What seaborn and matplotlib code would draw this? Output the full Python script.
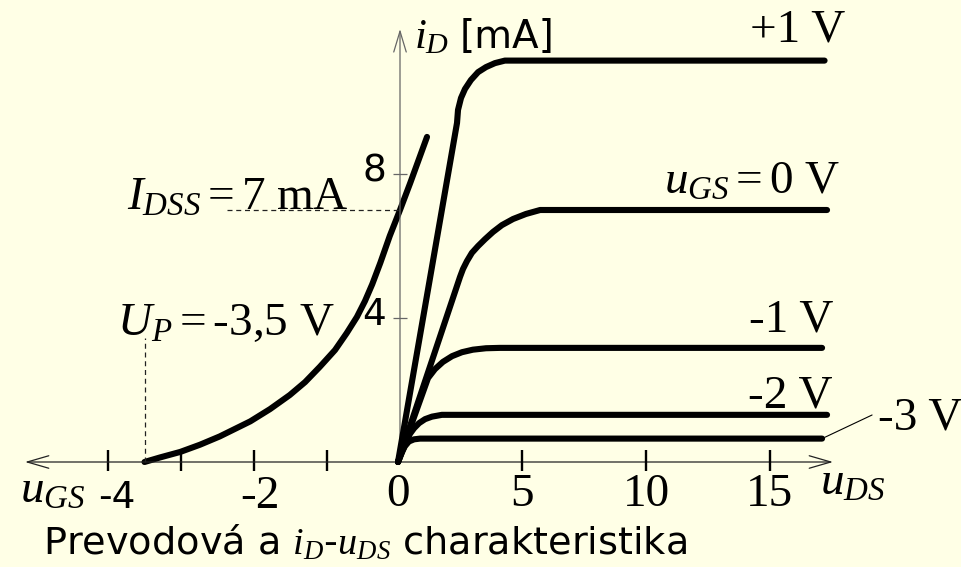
import matplotlib
matplotlib.use("Agg")
import matplotlib.pyplot as plt
import pandas as pd
import seaborn as sns

# Transfer characteristic i_D = f(u_GS) of an N-channel JFET
u_gs = [-3.5, -3.29, -3.01, -2.74, -2.47, -2.05, -1.78, -1.51, -1.30, -1.10,
        -0.89, -0.73, -0.59, -0.48, -0.38, -0.27, -0.14, 0.0, 0.14, 0.37]
i_transfer = [0.0, 0.125, 0.28, 0.48, 0.71, 1.13, 1.47, 1.86, 2.22, 2.64,
              3.11, 3.58, 4.03, 4.47, 4.94, 5.53, 6.28, 7.0, 7.75, 9.03]

# Output characteristics i_D = f(u_DS), one curve per gate voltage
u_ds_p1 = [0, 2.38, 2.42, 2.54, 2.70, 2.94, 3.23, 3.55, 3.91, 4.31, 17.2]
i_p1 = [0, 9.42, 9.78, 10.11, 10.36, 10.61, 10.83, 10.97, 11.08, 11.15, 11.15]
u_ds_0 = [0, 2.50, 2.62, 2.78, 2.98, 3.23, 3.51, 3.83, 4.19, 4.64, 5.16, 5.73, 17.3]
i_0 = [0, 5.14, 5.36, 5.58, 5.81, 6.00, 6.19, 6.39, 6.58, 6.75, 6.89, 7.0, 7.0]
u_ds_m1 = [0, 1.21, 1.49, 1.81, 2.18, 2.58, 3.02, 3.55, 4.11, 17.1]
i_m1 = [0, 2.33, 2.58, 2.78, 2.94, 3.05, 3.12, 3.16, 3.17, 3.17]
u_ds_m2 = [0, 0.28, 0.48, 0.65, 0.85, 1.09, 1.37, 1.77, 17.3]
i_m2 = [0, 0.47, 0.78, 0.94, 1.08, 1.19, 1.26, 1.31, 1.31]
u_ds_m3 = [0, 0.16, 0.28, 0.44, 0.65, 0.89, 17.1]
i_m3 = [0, 0.28, 0.44, 0.57, 0.63, 0.65, 0.65]

gate_voltages = ["+1 V", "0 V", "-1 V", "-2 V", "-3 V"]

# Characteristic points and axis ticks
I_DSS = 7.0
U_P = -3.5
gs_ticks = [-4, -3, -2, -1]
ds_ticks = [5, 10, 15]
ds_ticklabels = ["5", "10", "15"]
id_ticks = [4, 8]
id_ticklabels = ["4", "8"]

BG = "#FFFFE6"
sns.set_theme(style="white")
plt.rcParams.update({
    "font.family": ["Liberation Serif", "DejaVu Serif"],
    "text.color": "black",
    "mathtext.fontset": "custom",
    "mathtext.rm": "Liberation Serif",
    "mathtext.it": "Liberation Serif:italic",
    "mathtext.sf": "DejaVu Sans",
    "mathtext.bf": "Liberation Serif:bold",
    "lines.solid_capstyle": "round",
    "lines.solid_joinstyle": "round",
    "figure.facecolor": BG,
    "axes.facecolor": BG,
})

W, H = 962, 567
fig = plt.figure(figsize=(W / 100, H / 100), dpi=100)

# Both panels share the figure: u_GS scale on the left, u_DS scale on the right,
# a common i_D scale, with the origins coinciding on the vertical axis.
GS_PX, DS_PX, ID_PX = 73.0, 24.8, 36.0
X0_GS, X0_DS, Y0 = 400.0, 398.0, 462.0
ylim = ((Y0 - H) / ID_PX, Y0 / ID_PX)

ax_gs = fig.add_axes([0, 0, 1, 1])
ax_gs.set_xlim(-X0_GS / GS_PX, (W - X0_GS) / GS_PX)
ax_gs.set_ylim(*ylim)
ax_ds = fig.add_axes([0, 0, 1, 1])
ax_ds.set_xlim(-X0_DS / DS_PX, (W - X0_DS) / DS_PX)
ax_ds.set_ylim(*ylim)
ax_ds.patch.set_alpha(0)
for a in (ax_gs, ax_ds):
    a.set_axis_off()

LW = 4.4

# transfer curve
df_t = pd.DataFrame({"u_GS": u_gs, "i_D": i_transfer})
sns.lineplot(data=df_t, x="u_GS", y="i_D", ax=ax_gs, color="black", lw=LW,
             sort=False, estimator=None, legend=False)

# output curves
curves = [(u_ds_p1, i_p1), (u_ds_0, i_0), (u_ds_m1, i_m1), (u_ds_m2, i_m2), (u_ds_m3, i_m3)]
frames = []
for g, (u, i) in zip(gate_voltages, curves):
    frames.append(pd.DataFrame({"u_DS": u, "i_D": i, "u_GS": g}))
df_o = pd.concat(frames, ignore_index=True)
sns.lineplot(data=df_o, x="u_DS", y="i_D", units="u_GS", ax=ax_ds, color="black",
             lw=LW, sort=False, estimator=None, legend=False)

# axes with open arrow heads
x_left = (25 - X0_GS) / GS_PX
x_right = (833 - X0_GS) / GS_PX
ax_gs.annotate("", xy=(x_left, 0), xytext=(x_right, 0),
               arrowprops=dict(arrowstyle="<->,head_length=1.55,head_width=0.45",
                               lw=0.9, color="#222222", shrinkA=0, shrinkB=0,
                               mutation_scale=10))
ax_gs.annotate("", xy=(0, (Y0 - 29) / ID_PX), xytext=(0, 0),
               arrowprops=dict(arrowstyle="->,head_length=1.5,head_width=0.45",
                               lw=0.9, color="#666666", shrinkA=0, shrinkB=0,
                               mutation_scale=10))

# tick marks
tick_lo, tick_hi = -9 / ID_PX, 12 / ID_PX
ax_gs.vlines(gs_ticks, tick_lo, tick_hi, color="black", lw=1.7)
ax_ds.vlines(ds_ticks, tick_lo, tick_hi, color="black", lw=1.7)
ax_gs.hlines(id_ticks, -7 / GS_PX, 7 / GS_PX, color="#666666", lw=0.9)

# tick labels
SERIF = 34
SANS = 27
SANS_FAMILY = "DejaVu Sans"
ax_gs.annotate("-4", xy=(-4, 0), xytext=(6, -33), textcoords="offset points",
               ha="center", va="baseline", fontsize=SANS, family=SANS_FAMILY)
ax_gs.annotate("-2", xy=(-2, 0), xytext=(4, -33), textcoords="offset points",
               ha="center", va="baseline", fontsize=SERIF)
ax_ds.annotate("0", xy=(0, 0), xytext=(0, -32), textcoords="offset points",
               ha="center", va="baseline", fontsize=SERIF)
for t, lab in zip(ds_ticks, ds_ticklabels):
    ax_ds.annotate(lab, xy=(t, 0), xytext=(0, -32), textcoords="offset points",
                   ha="center", va="baseline", fontsize=SERIF)
for t, lab in zip(id_ticks, id_ticklabels):
    ax_gs.annotate(lab, xy=(0, t), xytext=(-10, 2), textcoords="offset points",
                   ha="right", va="center", fontsize=SANS, family=SANS_FAMILY)

# I_DSS and U_P guides
ax_gs.hlines(I_DSS, (227 - X0_GS) / GS_PX, 0, color="#222222", lw=0.9,
             linestyles=(0, (4, 3)))
ax_gs.vlines(U_P, 0, (Y0 - 338) / ID_PX, color="#222222", lw=0.9,
             linestyles=(0, (4, 3)))


def ftext(px, py, s, **kw):
    kw.setdefault("va", "baseline")
    kw.setdefault("fontsize", SERIF)
    fig.text(px / W, 1 - py / H, s, **kw)


ftext(127, 210, r"$I_{DSS}=\mathrm{7\ mA}$", ha="left")
ftext(117, 335, r"$U_P=\text{-3,5 V}$", ha="left")

# gate-voltage labels of the output curves
ftext(845, 42, "+1 V", ha="right")
ftext(840, 194, r"$u_{GS}=\mathrm{0\ V}$", ha="right")
ftext(833, 332, "-1 V", ha="right")
ftext(833, 407, "-2 V", ha="right")
ftext(878, 430, "-3 V", ha="left")
ax_ds.annotate("", xy=(u_ds_m3[-1], i_m3[-1]), xytext=(36, 17),
               textcoords="offset points",
               arrowprops=dict(arrowstyle="-", lw=0.8, color="black",
                               shrinkA=0, shrinkB=2))

# axis names
ftext(414, 48, r"$i_D$", ha="left", fontsize=31)
ftext(460, 48, "[mA]", ha="left", fontsize=28, family=SANS_FAMILY)
ftext(20, 503, r"$u_{GS}$", ha="left")
ftext(820, 495, r"$u_{DS}$", ha="left")

ftext(43, 555, "Prevodová a $i_D$-$u_{DS}$ charakteristika", ha="left",
      fontsize=27.5, family=SANS_FAMILY)

fig.savefig("out.png", dpi=100, facecolor=BG)
